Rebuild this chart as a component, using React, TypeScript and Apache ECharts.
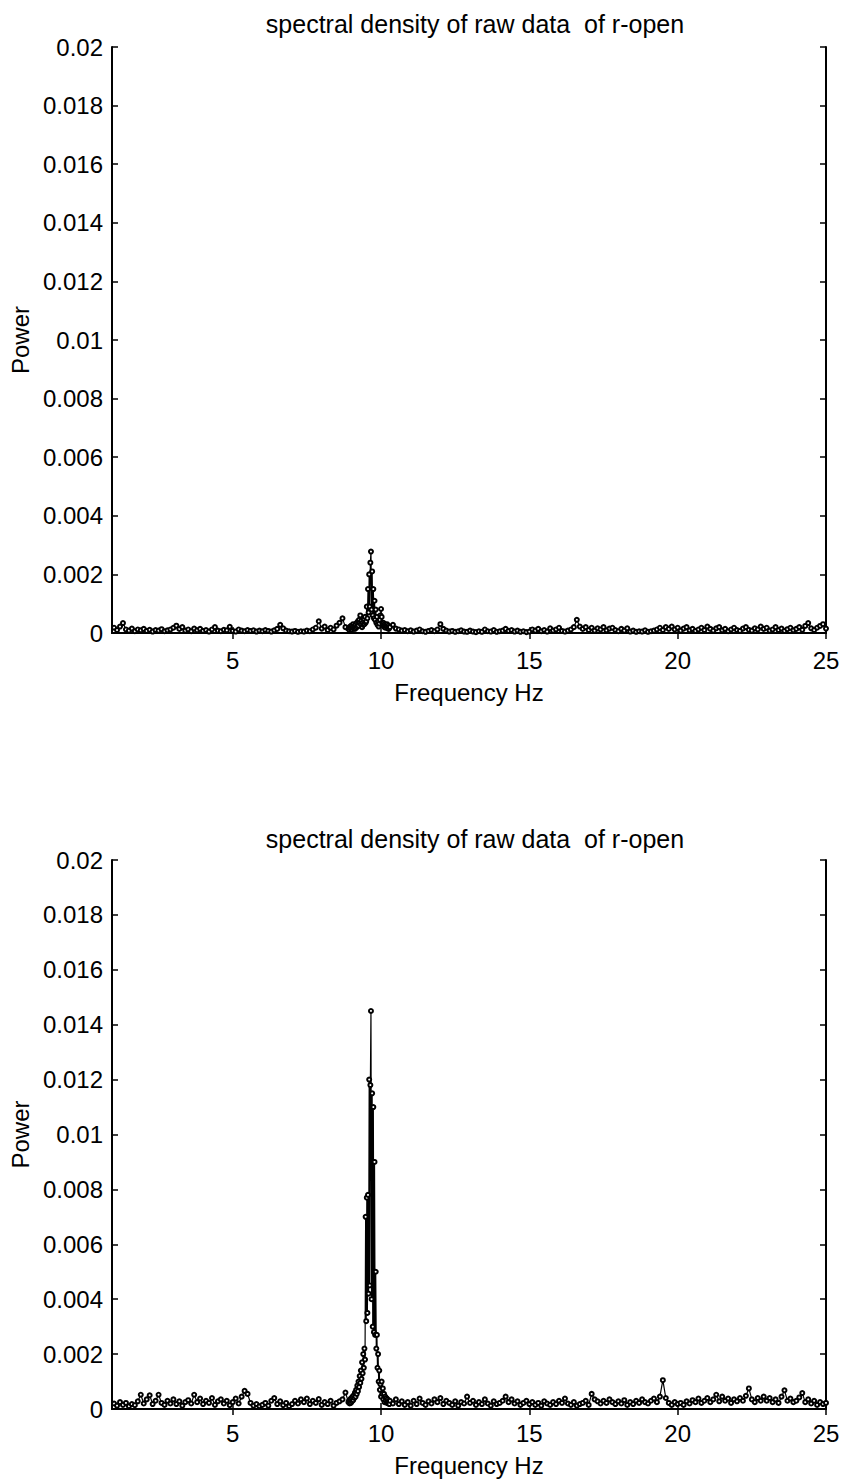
import React, { useEffect, useRef } from "react";
import * as echarts from "echarts";

// Power values are stored in units of 1e-5 (power × 100000).
const UNIT = 1e-5;
const TITLE = "spectral density of raw data  of r-open";
const X_NAME = "Frequency Hz";
const Y_NAME = "Power";
const X_TICKS = [5, 10, 15, 20, 25];
const X_MIN = 0.93;
const X_MAX = 25;
const Y_MAX = 0.02;
const Y_STEP = 0.002;

// Frequency grids: coarse 0.1 Hz for 1.0–8.9 and 10.3–25.0, fine 0.02 Hz for 8.92–10.28
const LOW_START = 1.0;
const PEAK_START = 8.92;
const HIGH_START = 10.3;
const COARSE_STEP = 0.1;
const FINE_STEP = 0.02;

// ---------- upper panel ----------
const topLow = [
  18, 10, 22, 34, 12, 8, 15, 6, 12, 9,
  14, 7, 11, 5, 10, 8, 13, 6, 9, 12,
  18, 25, 14, 20, 8, 12, 6, 15, 9, 14,
  7, 10, 5, 12, 20, 8, 6, 11, 9, 21,
  7, 5, 12, 8, 6, 10, 7, 9, 5, 8,
  6, 10, 7, 5, 9, 14, 28, 16, 8, 6,
  5, 7, 4, 6, 5, 8, 6, 12, 18, 40,
  15, 22, 10, 18, 12, 25, 35, 50, 20, 14,
];
const topPeak = [
  18, 10, 22, 15, 25, 12, 20, 30, 16, 24,
  14, 28, 18, 35, 22, 40, 25, 45, 35, 60,
  30, 42, 20, 35, 28, 48, 30, 55, 35, 40,
  90, 50, 150, 70, 200, 90, 240, 278, 80, 210,
  60, 150, 50, 110, 45, 80, 35, 55, 28, 38,
  22, 32, 45, 60, 82, 55, 35, 28, 35, 22,
  30, 18, 28, 22, 30, 16, 25, 14, 20,
];
const topHigh = [
  20, 28, 15, 12, 8, 10, 6,
  9, 5, 8, 12, 6, 4, 7, 10, 6, 12,
  30, 14, 8, 5, 7, 4, 6, 9, 5, 4,
  8, 5, 3, 6, 4, 12, 6, 5, 10, 4,
  6, 8, 14, 7, 10, 5, 8, 4, 6, 3,
  5, 12, 8, 14, 6, 10, 5, 16, 8, 12,
  18, 7, 5, 8, 12, 20, 45, 22, 14, 20,
  10, 18, 8, 16, 12, 20, 9, 15, 18, 10,
  6, 14, 8, 16, 5, 8, 4, 6, 5, 9,
  4, 6, 8, 12, 18, 10, 20, 14, 22, 12,
  18, 8, 15, 20, 9, 14, 7, 12, 18, 10,
  22, 14, 8, 16, 20, 9, 14, 6, 12, 18,
  10, 7, 15, 20, 11, 8, 16, 12, 22, 14,
  18, 8, 12, 20, 10, 15, 7, 13, 18, 9,
  14, 20, 11, 24, 34, 16, 10, 18, 24, 30,
  15,
];

// ---------- lower panel ----------
const botLow = [
  20, 12, 25, 15, 22, 10, 18, 14, 28, 52,
  20, 35, 50, 18, 30, 52, 22, 15, 30, 20,
  35, 18, 28, 12, 25, 32, 20, 52, 25, 38,
  18, 30, 22, 40, 15, 28, 35, 20, 30, 14,
  25, 38, 20, 45, 66, 55, 22, 12, 18, 10,
  15, 22, 12, 30, 40, 18, 28, 14, 22, 10,
  18, 30, 20, 35, 25, 38, 18, 30, 22, 36,
  15, 25, 18, 30, 12, 22, 28, 35, 60, 25,
];
const botPeak = [
  30, 20, 35, 22, 40, 28, 45, 32, 50, 40,
  60, 45, 70, 55, 85, 65, 100, 80, 120, 95,
  140, 110, 170, 130, 200, 150, 220, 180, 700, 320,
  770, 350, 780, 420, 1200, 450, 1180, 1450, 400, 1150,
  300, 1100, 280, 900, 270, 500, 220, 270, 150, 200,
  100, 140, 70, 90, 45, 100, 55, 75, 35, 55,
  25, 45, 30, 40, 22, 35, 20, 30, 18,
];
const botHigh = [
  30, 20, 35, 18, 28, 15, 25,
  12, 30, 18, 38, 22, 15, 28, 20, 35, 25,
  40, 18, 30, 22, 15, 28, 12, 25, 20, 45,
  22, 30, 15, 25, 18, 35, 20, 12, 28, 18,
  22, 30, 45, 25, 35, 20, 28, 15, 22, 30,
  18, 25, 15, 22, 12, 28, 20, 15, 25, 18,
  30, 22, 38, 20, 15, 25, 12, 18, 22, 30,
  15, 55, 35, 28, 20, 30, 22, 35, 25, 18,
  28, 20, 32, 15, 25, 18, 30, 22, 35, 25,
  20, 30, 38, 25, 45, 105, 40, 22, 15, 25,
  18, 22, 15, 28, 20, 32, 25, 38, 22, 30,
  40, 25, 35, 52, 28, 45, 30, 38, 22, 35,
  28, 40, 30, 48, 75, 35, 25, 40, 30, 45,
  30, 40, 25, 35, 22, 45, 68, 30, 38, 25,
  30, 42, 58, 25, 35, 20, 30, 15, 25, 18,
  22,
];

const r2 = (v: number) => Math.round(v * 100) / 100;
function buildSeries(low: number[], peak: number[], high: number[]) {
  const out: [number, number][] = [];
  low.forEach((v, i) => out.push([r2(LOW_START + i * COARSE_STEP), v * UNIT]));
  peak.forEach((v, i) => out.push([r2(PEAK_START + i * FINE_STEP), v * UNIT]));
  high.forEach((v, i) => out.push([r2(HIGH_START + i * COARSE_STEP), v * UNIT]));
  return out;
}

const FONT = "Liberation Sans, Arial, sans-serif";
const BLACK = "#000";

export default function App() {
  const ref = useRef<HTMLDivElement>(null);
  useEffect(() => {
    document.body.style.margin = "0";
    if (!ref.current) return;
    const chart = echarts.init(ref.current, undefined, { renderer: "svg" });

    const grids = [
      { left: 112, right: 20, top: 47, height: 586 },
      { left: 112, right: 20, top: 860, height: 549 },
    ];
    const titleTops = [6, 821];
    const xNameGaps = [47, 44];
    const xLabelMargins = [15, 12];

    const axisLine = { show: true, lineStyle: { color: BLACK, width: 2 } };
    const xAxes: any[] = [];
    const yAxes: any[] = [];
    grids.forEach((_, gi) => {
      xAxes.push({
        type: "value",
        gridIndex: gi,
        position: "bottom",
        min: X_MIN,
        max: X_MAX,
        name: X_NAME,
        nameLocation: "middle",
        nameGap: xNameGaps[gi],
        nameTextStyle: { color: BLACK, fontSize: 24, fontFamily: FONT },
        axisLine,
        axisTick: { show: true, inside: true, length: 6, customValues: X_TICKS, lineStyle: { color: BLACK, width: 1.5 } },
        axisLabel: { show: true, customValues: X_TICKS, margin: xLabelMargins[gi], color: BLACK, fontSize: 24, fontFamily: FONT },
        splitLine: { show: false },
      });
      xAxes.push({
        type: "value",
        gridIndex: gi,
        position: "top",
        min: X_MIN,
        max: X_MAX,
        axisLine,
        axisTick: { show: true, inside: true, length: 6, customValues: X_TICKS, lineStyle: { color: BLACK, width: 1.5 } },
        axisLabel: { show: false },
        splitLine: { show: false },
      });
      yAxes.push({
        type: "value",
        gridIndex: gi,
        position: "left",
        min: 0,
        max: Y_MAX,
        interval: Y_STEP,
        name: Y_NAME,
        nameLocation: "middle",
        nameRotate: 90,
        nameGap: 68,
        nameTextStyle: { color: BLACK, fontSize: 24, fontFamily: FONT },
        axisLine,
        axisTick: { show: true, inside: true, length: 6, lineStyle: { color: BLACK, width: 1.5 } },
        axisLabel: {
          show: true,
          margin: 9,
          color: BLACK,
          fontSize: 24,
          fontFamily: FONT,
          formatter: (v: number) => String(+v.toFixed(3)),
        },
        splitLine: { show: false },
      });
      yAxes.push({
        type: "value",
        gridIndex: gi,
        position: "right",
        min: 0,
        max: Y_MAX,
        interval: Y_STEP,
        axisLine,
        axisTick: { show: true, inside: true, length: 6, lineStyle: { color: BLACK, width: 1.5 } },
        axisLabel: { show: false },
        splitLine: { show: false },
      });
    });

    const datasets = [buildSeries(topLow, topPeak, topHigh), buildSeries(botLow, botPeak, botHigh)];

    chart.setOption({
      animation: false,
      backgroundColor: "#fff",
      title: grids.map((_, gi) => ({
        text: TITLE,
        left: 470,
        top: titleTops[gi],
        textAlign: "center",
        textStyle: { color: BLACK, fontSize: 25, fontWeight: "normal", fontFamily: FONT },
      })),
      grid: grids,
      xAxis: xAxes,
      yAxis: yAxes,
      series: datasets.map((d, gi) => ({
        type: "line",
        xAxisIndex: gi * 2,
        yAxisIndex: gi * 2,
        data: d,
        symbol: "emptyCircle",
        symbolSize: 4,
        showSymbol: true,
        itemStyle: { color: BLACK, borderColor: BLACK, borderWidth: 1.2 },
        lineStyle: { color: BLACK, width: 1.2 },
        clip: true,
      })),
    });
    return () => chart.dispose();
  }, []);
  return (
    <div
      ref={ref}
      style={{ position: "fixed", left: 0, top: 0, width: 846, height: 1481, background: "#fff" }}
    />
  );
}
